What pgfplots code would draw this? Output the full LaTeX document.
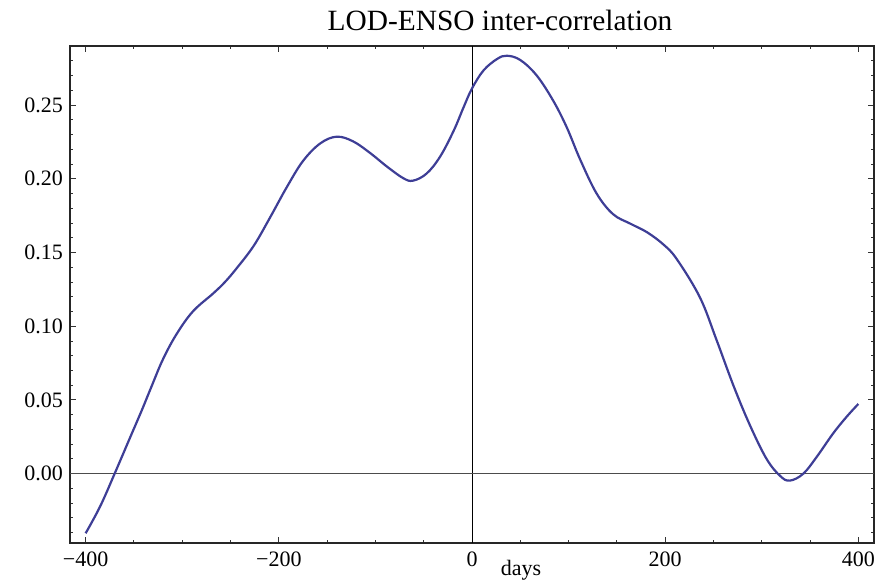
\documentclass[border=0pt]{standalone}
\usepackage{fontspec}
\setmainfont{Liberation Serif}
\usepackage{pgfplots}
\usepackage{pgfplotstable}
\pgfplotsset{compat=1.18}
\definecolor{mmablue}{RGB}{62,62,150}

\pgfplotstableread{
x y
-400 -0.0404
-385 -0.0222
-370 0.000
-354 0.0245
-342 0.0428
-332 0.0588
-320 0.0775
-306 0.0945
-289 0.1100
-268 0.1222
-256 0.1298
-244 0.1390
-226 0.1545
-209 0.1738
-192 0.1940
-175 0.2120
-157 0.2240
-140 0.2285
-123 0.2253
-105 0.2172
-88 0.2082
-71 0.2003
-61 0.1987
-47 0.2035
-33 0.2150
-19 0.2325
-9 0.2480
0 0.2612
12 0.2735
26 0.2812
36 0.2834
50 0.2805
67 0.2700
84 0.2530
98 0.2350
112 0.2130
129 0.1900
146 0.1760
164 0.1695
181 0.1638
198 0.1555
212 0.1455
236 0.1195
253 0.0910
271 0.0592
288 0.0325
305 0.0100
319 -0.0015
329 -0.0047
343 0.0000
357 0.0115
374 0.0274
388 0.0387
400 0.0473
}\lodenso

\begin{document}
\begin{tikzpicture}
\begin{axis}[
  scale only axis, width=402pt, height=248.5pt,
  xmin=-416.2, xmax=416.2, ymin=-0.047, ymax=0.29,
  xtick={-400,-200,0,200,400},
  xticklabels={−400,−200,0,200,400},
  ytick={0,0.05,0.10,0.15,0.20,0.25},
  yticklabels={0.00,0.05,0.10,0.15,0.20,0.25},
  minor xtick={-350,-300,-250,-150,-100,-50,50,100,150,250,300,350},
  minor ytick={-0.04,-0.03,-0.02,-0.01,0.01,0.02,0.03,0.04,0.06,0.07,0.08,0.09,0.11,0.12,0.13,0.14,0.16,0.17,0.18,0.19,0.21,0.22,0.23,0.24,0.26,0.27,0.28},
  tick align=inside, major tick length=3pt, minor tick length=1.6pt,
  tick style={black!80, line width=0.45pt},
  axis line style={black!85, line width=0.6pt},
  ticklabel style={font=\fontsize{11}{13}\selectfont},
  xticklabel style={yshift=-1pt},
]
\draw[black, line width=0.5pt] (axis cs:0,-0.047) -- (axis cs:0,0.29);
\draw[black!70, line width=0.6pt] (axis cs:-416.2,0) -- (axis cs:416.2,0);
\addplot[mmablue, line width=1.1pt, smooth, tension=0.6] table {\lodenso};
\end{axis}
\node[anchor=base, font=\fontsize{14.7}{17}\selectfont] at ([shift={(215pt,7.5pt)}]current axis.north west) {LOD-ENSO inter-correlation};
\node[anchor=base, font=\fontsize{11}{13}\selectfont] at ([shift={(225.5pt,-16pt)}]current axis.south west) {days};
\pgfresetboundingbox
\path[use as bounding box] ([shift={(-35pt,-18.5pt)}]current axis.south west) rectangle ([shift={(5.5pt,23pt)}]current axis.north east);
\end{tikzpicture}
\end{document}
